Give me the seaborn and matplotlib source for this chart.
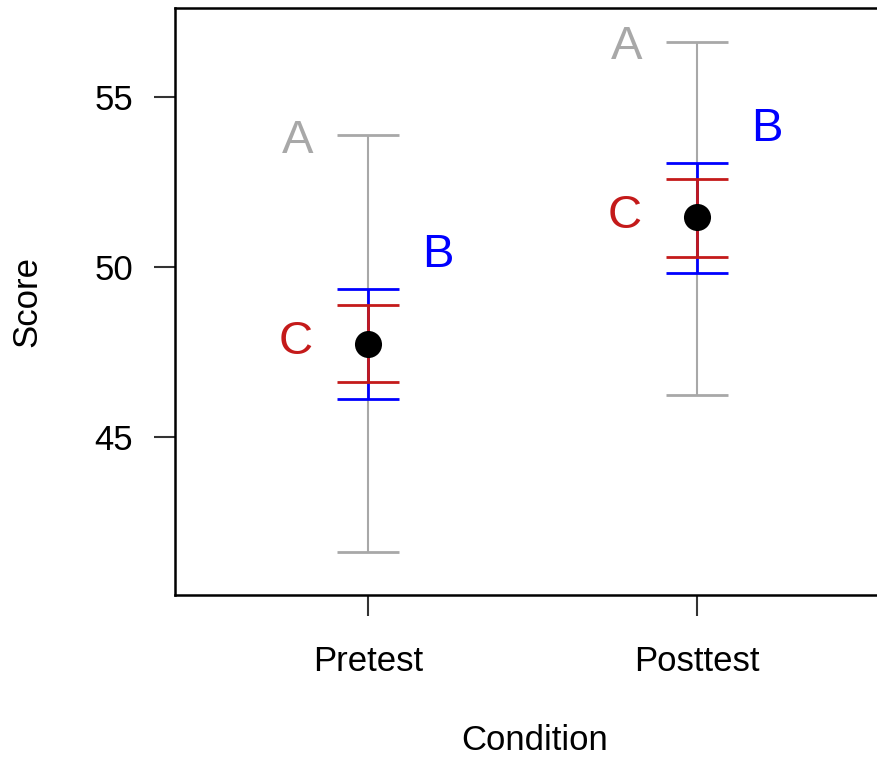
import matplotlib
matplotlib.use("Agg")
import matplotlib.pyplot as plt
import seaborn as sns
import pandas as pd
import numpy as np

# ---- data ----
conditions = ["Pretest", "Posttest"]
means = [47.74, 51.46]
a_low = [41.62, 46.24]
a_high = [53.88, 56.62]
b_low = [46.12, 49.82]
b_high = [49.35, 53.05]
c_low = [46.62, 50.29]
c_high = [48.88, 52.58]
y_ticks = [45, 50, 55]

sns.set_theme(style="white")
plt.rcParams['font.family'] = ['Liberation Sans', 'DejaVu Sans']

GRAY = "#A8A8A8"
BLUE = "#0000FF"
RED = "#C41A1A"

fig = plt.figure(figsize=(8.77, 7.61), dpi=100)
ax = fig.add_axes([0.19954, 0.21813, 0.8203, 0.77135])

df = pd.DataFrame({"Condition": conditions, "Score": means})

def draw_interval(lo, hi, color, lw, z):
    m = np.array(means)
    yerr = np.vstack([m - np.array(lo), np.array(hi) - m])
    ax.errorbar(conditions, means, yerr=yerr, fmt="none", ecolor=color,
                elinewidth=lw, capsize=22, capthick=2.0, zorder=z)

draw_interval(a_low, a_high, GRAY, 1.5, 2)
draw_interval(b_low, b_high, BLUE, 2.0, 3)
draw_interval(c_low, c_high, RED, 2.0, 4)

sns.scatterplot(data=df, x="Condition", y="Score", color="black", s=380,
                linewidth=0, zorder=5, ax=ax)

FS = 34
for i, c in enumerate(conditions):
    ax.annotate("A", xy=(i, a_high[i]), xytext=(-51, -12.6), textcoords="offset points",
                ha="center", va="baseline", color=GRAY, fontsize=FS)
    ax.annotate("B", xy=(i, b_high[i]), xytext=(50.5, 15.8), textcoords="offset points",
                ha="center", va="baseline", color=BLUE, fontsize=FS)
    ax.annotate("C", xy=(i, means[i]), xytext=(-52, -7.6), textcoords="offset points",
                ha="center", va="baseline", color=RED, fontsize=FS)

ax.set_xlim(-0.587, 1.6)
ax.set_ylim(40.35, 57.62)
ax.set_yticks(y_ticks)
ax.set_yticklabels([str(t) for t in y_ticks])

for side in ["left", "bottom", "top", "right"]:
    ax.spines[side].set_visible(True)
    ax.spines[side].set_color("black")
    ax.spines[side].set_linewidth(1.8)

ax.tick_params(axis="both", which="major", length=15, width=1.5, color="#333333",
               labelsize=25, labelcolor="black", direction="out",
               bottom=True, left=True)
ax.tick_params(axis="x", pad=21)
ax.tick_params(axis="y", pad=15)

ax.set_xlabel("Condition", fontsize=25, labelpad=33, color="black")
ax.set_ylabel("Score", fontsize=25, labelpad=37, color="black")

fig.savefig("out.png", dpi=100)
